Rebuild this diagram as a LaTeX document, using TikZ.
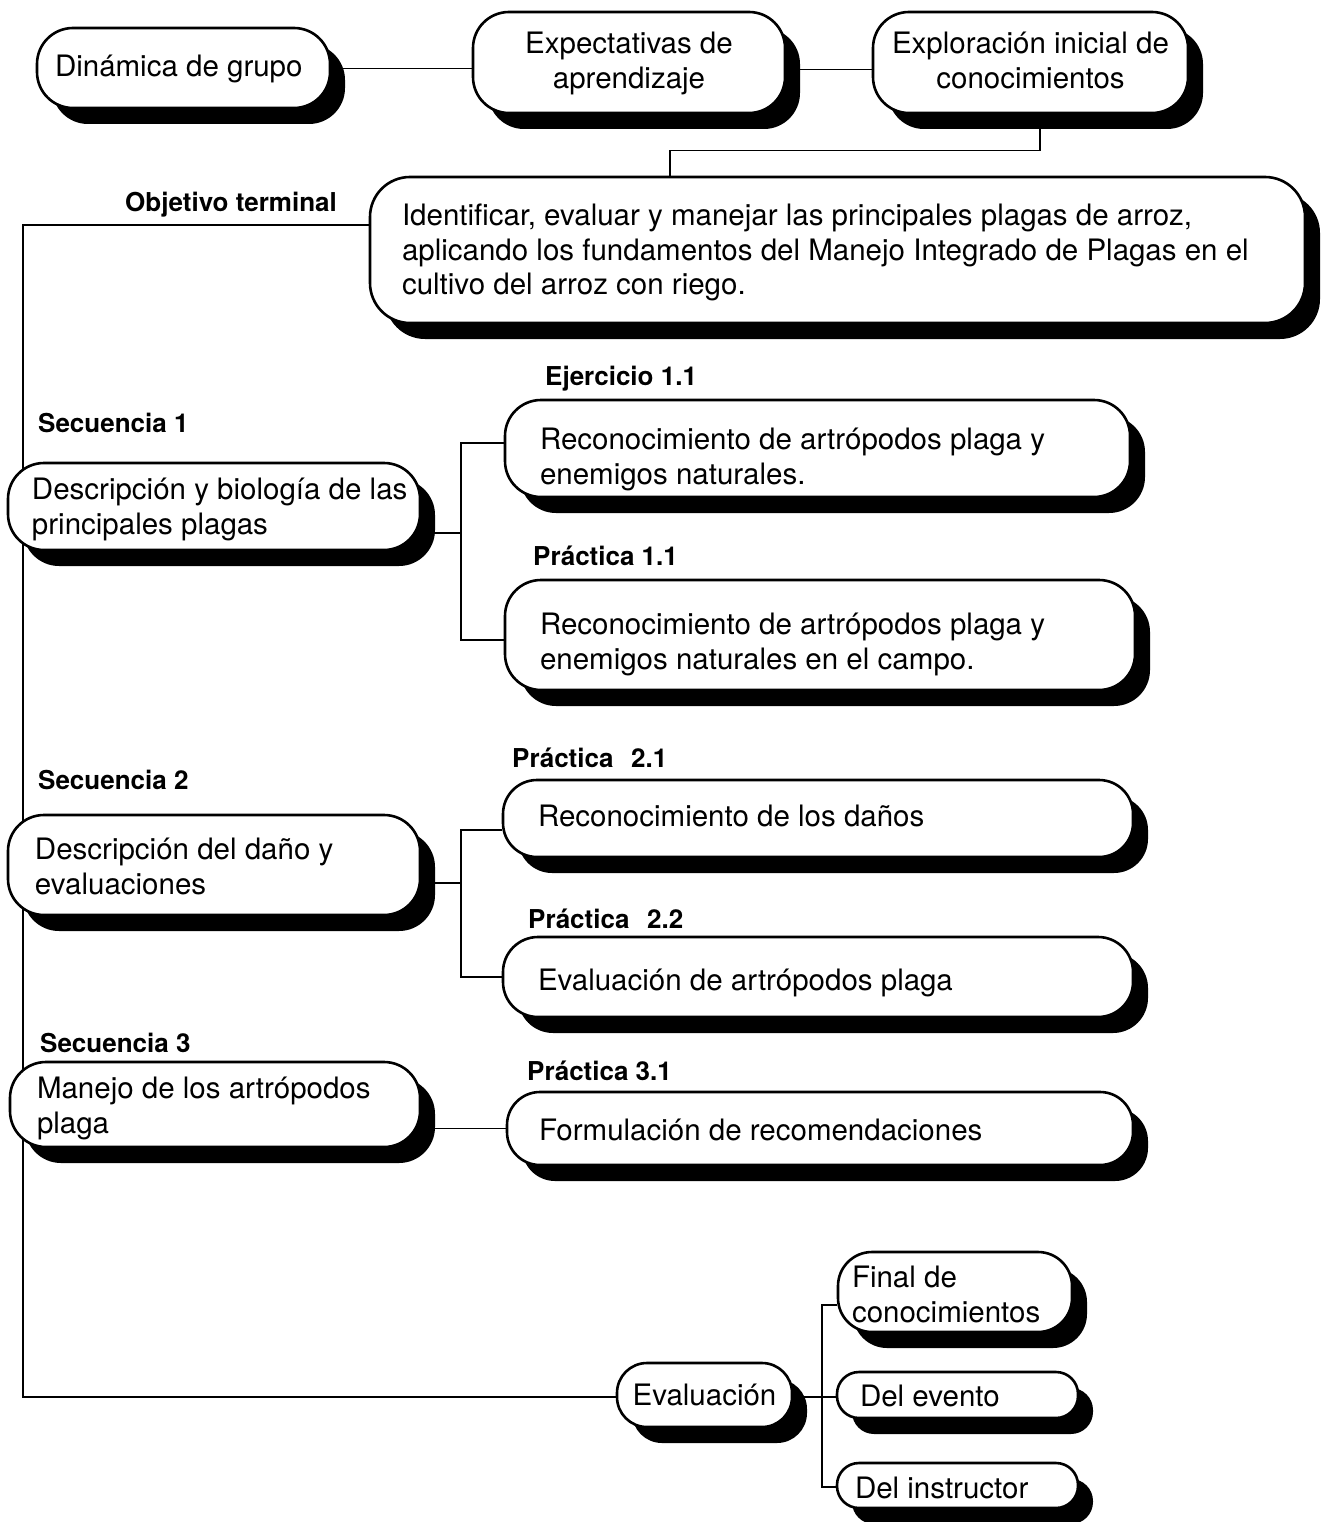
\documentclass[tikz,border=0pt]{standalone}
\usepackage{fontspec}
\setmainfont{TeX Gyre Heros}
\usetikzlibrary{shadows}
\pgfdeclarelayer{background}
\pgfsetlayers{background,main}
\newcommand\btext[4][0]{\raisebox{-#1pt}[\height][\depth]{\makebox[#2pt][l]{\hspace*{#3pt}\begin{tabular}{@{}l@{}}#4\end{tabular}}}}
\newcommand\ctext[3][0]{\raisebox{-#1pt}[\height][\depth]{\makebox[#2pt][c]{\begin{tabular}{@{}c@{}}#3\end{tabular}}}}
\begin{document}
\begin{tikzpicture}[x=1pt,y=-1pt,
  box/.style={draw, line width=2.6pt, fill=white, rounded corners=36pt, inner sep=0pt,
    font=\fontsize{29.5}{35}\selectfont,
    drop shadow={shadow xshift=15pt, shadow yshift=-16pt, opacity=1, fill=black}},
  lbl/.style={anchor=west, inner sep=0pt, font=\fontsize{26}{30}\selectfont\bfseries},
  conn/.style={line width=1.5pt}]
\useasboundingbox (0,0) rectangle (1322,1522);

% boxes
\node[box, minimum height=80pt] (dg) at (183.5,68) {\btext[2]{293}{18}{Dinámica de grupo}};
\node[box, minimum height=101pt] (ea) at (629,62.5) {\ctext[2]{312}{Expectativas de\\aprendizaje}};
\node[box, minimum height=101pt] (ei) at (1030.5,62.5) {\ctext[2]{315}{Exploración inicial de\\conocimientos}};
\node[box, minimum height=146pt, rounded corners=40pt] (obj) at (837.5,250) {\btext[3]{935}{32}{Identificar, evaluar y manejar las principales plagas de arroz,\\aplicando los fundamentos del Manejo Integrado de Plagas en el\\cultivo del arroz con riego.}};

\node[box, minimum height=87pt] (s1) at (214,506.5) {\btext[3]{412}{24}{Descripción y biología de las\\principales plagas}};
\node[box, minimum height=97pt] (e11) at (817.5,448.5) {\btext[11]{625}{35}{Reconocimiento de artrópodos plaga y\\enemigos naturales.}};
\node[box, minimum height=110pt] (p11) at (820,635) {\btext[10]{630}{35}{Reconocimiento de artrópodos plaga y\\enemigos naturales en el campo.}};

\node[box, minimum height=100pt] (s2) at (214,865) {\btext[5]{412}{27}{Descripción del daño y\\evaluaciones}};
\node[box, minimum height=77pt, rounded corners=34pt] (p21) at (818,818.5) {\btext[1]{630}{35}{Reconocimiento de los daños}};
\node[box, minimum height=80pt, rounded corners=35pt] (p22) at (818,977) {\btext[6]{630}{35}{Evaluación de artrópodos plaga}};

\node[box, minimum height=85pt] (s3) at (215,1104.5) {\btext[4]{410}{27}{Manejo de los artrópodos\\plaga}};
\node[box, minimum height=73pt, rounded corners=33pt] (p31) at (820,1128.5) {\btext[5]{626}{32}{Formulación de recomendaciones}};

\node[box, minimum height=64pt, rounded corners=30pt] (ev) at (704.5,1395) {\ctext[3]{175}{Evaluación}};
\node[box, minimum height=80pt, rounded corners=34pt] (fin) at (955,1292) {\btext[6]{234}{14}{Final de\\conocimientos}};
\node[box, minimum height=46pt, rounded corners=22pt] (dev) at (957.5,1395) {\btext[4]{241}{23}{Del evento}};
\node[box, minimum height=45pt, rounded corners=22pt] (din) at (957.5,1485.5) {\btext[6]{241}{18}{Del instructor}};

% labels
\node[lbl] (lobj) at (125,205) {Objetivo terminal};
\node[lbl] (le11) at (545,379) {Ejercicio 1.1};
\node[lbl] (ls1) at (38,423) {Secuencia 1};
\node[lbl] (lp11) at (533,556) {Práctica 1.1};
\node[lbl] (lp21) at (512,758) {Práctica\hspace{0.4em} 2.1};
\node[lbl] (ls2) at (38,780) {Secuencia 2};
\node[lbl] (lp22) at (528,919) {Práctica\hspace{0.4em} 2.2};
\node[lbl] (ls3) at (40,1043) {Secuencia 3};
\node[lbl] (lp31) at (527,1071) {Práctica 3.1};

% junctions
\coordinate (spTop) at (23,225);
\coordinate (spBot) at (23,1397);
\coordinate (j1) at (461,533);
\coordinate (j2) at (461,883);
\coordinate (j3) at (822,1397);

\begin{pgfonlayer}{background}
\draw[conn] (dg.east |- ea.west) ++(0,6) -- ([yshift=-6pt]ea.west);
\draw[conn] ([yshift=-7pt]ea.east) -- ([yshift=-7pt]ei.west);
\draw[conn] ([xshift=9.5pt]ei.south) |- ([xshift=-167.5pt,yshift=25pt]obj.north) -- ([xshift=-167.5pt]obj.north);
\draw[conn] ([yshift=25pt]obj.west) -- (spTop) -- (spBot) -- (ev.west |- spBot);
\draw[conn] (s1.east |- j1) -- (j1);
\draw[conn] ([yshift=5.5pt]e11.west) -| (j1) |- ([yshift=-5pt]p11.west);
\draw[conn] (s2.east |- j2) -- (j2);
\draw[conn] ([yshift=-11.5pt]p21.west) -| (j2) |- (p22.west);
\draw[conn] (s3.east |- p31.west) -- (p31.west);
\draw[conn] (ev.east |- j3) -- (j3);
\draw[conn] ([yshift=-13pt]fin.west) -| (j3) |- ([yshift=-1.5pt]din.west);
\draw[conn] (j3) -- (dev.west |- j3);
\end{pgfonlayer}
\end{tikzpicture}
\end{document}
